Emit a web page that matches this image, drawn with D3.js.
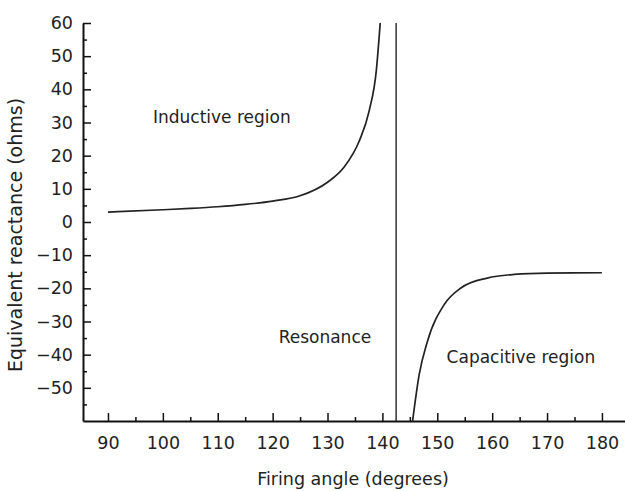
<!DOCTYPE html>
<html>
<head>
	<meta charset="utf-8">
	<title>Equivalent reactance vs firing angle</title>
	<script src="https://cdnjs.cloudflare.com/ajax/libs/d3/7.8.5/d3.min.js"></script>
	<style>
		body { margin: 0; background: #fff; }
		svg text { font-family: "DejaVu Sans", sans-serif; fill: #222; }
		.axis path, .axis line { stroke: #111; }
	</style>
</head>
<body>
	<div id="chartDiv"></div>
	<script>
		// data
		const inductiveAngle = [90, 100, 105, 110, 115, 120, 125, 130, 133, 135.8, 137.6, 138.9, 139.6];
		const inductiveX     = [3.0, 3.7, 4.1, 4.6, 5.3, 6.3, 7.9, 12.0, 16.5, 24.5, 33.6, 45.8, 60];
		const capacitiveAngle = [145.5, 146.7, 148.2, 151.3, 154.3, 159.1, 164, 170, 180];
		const capacitiveX     = [-60, -46, -36, -24.8, -19.9, -16.9, -15.8, -15.4, -15.3];
		const resonanceAngle = 142.5;

		const xTicks = [90, 100, 110, 120, 130, 140, 150, 160, 170, 180];
		const yTicks = [60, 50, 40, 30, 20, 10, 0, -10, -20, -30, -40, -50];

		const labels = [
			{ text: 'Inductive region', angle: 98.2, value: 29.8 },
			{ text: 'Resonance', angle: 121.1, value: -36.5 },
			{ text: 'Capacitive region', angle: 151.7, value: -42.6 }
		];

		const width = 625, height = 491;
		const margin = { left: 83, right: 0, top: 23, bottom: 70 };

		const svg = d3.select('#chartDiv').append('svg')
			.attr('width', width)
			.attr('height', height);

		const xScale = d3.scaleLinear()
			.domain([85.45, 184.2])
			.range([margin.left, width - margin.right]);
		const yScale = d3.scaleLinear()
			.domain([-60, 60])
			.range([height - margin.bottom, margin.top]);

		// minor ticks first, majors on top
		const xMinor = d3.range(95, 185, 10);
		const yMinor = d3.range(-55, 60, 10);

		const xAxisG = svg.append('g')
			.attr('class', 'axis x')
			.attr('transform', `translate(0,${yScale(-60)})`);
		xAxisG.append('g')
			.call(d3.axisBottom(xScale).tickValues(xMinor).tickSize(-4).tickFormat(''))
			.call(g => g.select('.domain').remove());
		xAxisG.append('g')
			.call(d3.axisBottom(xScale).tickValues(xTicks).tickSize(-8).tickPadding(16).tickSizeOuter(0))
			.call(g => g.selectAll('.tick text').attr('font-size', 17.5).attr('font-family', null))
			.call(g => g.select('.domain').attr('stroke-width', 2));

		const yAxisG = svg.append('g')
			.attr('class', 'axis y')
			.attr('transform', `translate(${xScale.range()[0]},0)`);
		yAxisG.append('g')
			.call(d3.axisLeft(yScale).tickValues(yMinor).tickSize(-4).tickFormat(''))
			.call(g => g.select('.domain').remove());
		yAxisG.append('g')
			.call(d3.axisLeft(yScale).tickValues(yTicks).tickSize(-8).tickPadding(10).tickSizeOuter(0)
				.tickFormat(d => d < 0 ? '\u2212' + Math.abs(d) : d))
			.call(g => g.selectAll('.tick text').attr('font-size', 17.5).attr('font-family', null))
			.call(g => g.select('.domain').attr('stroke-width', 2));
		svg.selectAll('.axis .tick line').attr('stroke-width', 1.5);

		// axis titles
		svg.append('text')
			.attr('x', 353)
			.attr('y', 485)
			.attr('text-anchor', 'middle')
			.attr('font-size', 17.5)
			.text('Firing angle (degrees)');
		svg.append('text')
			.attr('transform', `translate(22,235) rotate(-90)`)
			.attr('text-anchor', 'middle')
			.attr('font-size', 19)
			.text('Equivalent reactance (ohms)');

		// curves
		const line = d3.line()
			.x(d => xScale(d[0]))
			.y(d => yScale(d[1]))
			.curve(d3.curveMonotoneX);

		const plot = svg.append('g');
		plot.append('path')
			.datum(d3.zip(inductiveAngle, inductiveX))
			.attr('d', line)
			.attr('fill', 'none')
			.attr('stroke', '#222')
			.attr('stroke-width', 1.7);
		plot.append('path')
			.datum(d3.zip(capacitiveAngle, capacitiveX))
			.attr('d', line)
			.attr('fill', 'none')
			.attr('stroke', '#222')
			.attr('stroke-width', 1.7);
		plot.append('line')
			.attr('x1', xScale(resonanceAngle))
			.attr('x2', xScale(resonanceAngle))
			.attr('y1', yScale(60))
			.attr('y2', yScale(-60))
			.attr('stroke', '#222')
			.attr('stroke-width', 1.4);

		plot.selectAll('.regionLabel')
			.data(labels)
			.enter().append('text')
			.attr('class', 'regionLabel')
			.attr('x', d => xScale(d.angle))
			.attr('y', d => yScale(d.value))
			.attr('font-size', 17)
			.text(d => d.text);
	</script>
</body>
</html>
